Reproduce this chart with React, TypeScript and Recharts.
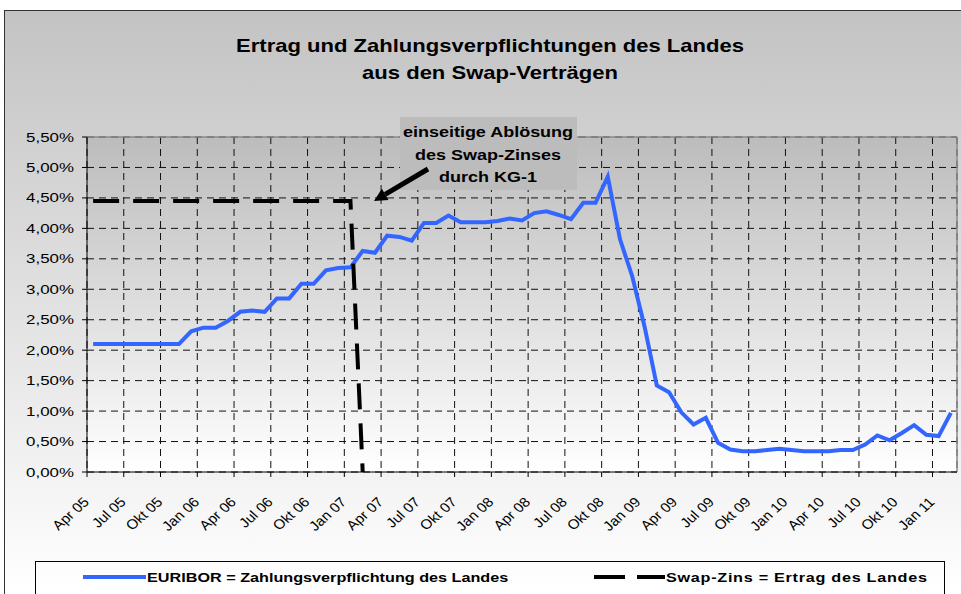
import React from 'react';
import { LineChart, Line, XAxis, YAxis, CartesianGrid, ReferenceLine } from 'recharts';

// monthly categories, Apr 05 .. Feb 11
const months = [
  'Apr 05', 'Mai 05', 'Jun 05', 'Jul 05', 'Aug 05', 'Sep 05', 'Okt 05', 'Nov 05', 'Dez 05',
  'Jan 06', 'Feb 06', 'Mrz 06', 'Apr 06', 'Mai 06', 'Jun 06', 'Jul 06', 'Aug 06', 'Sep 06', 'Okt 06', 'Nov 06', 'Dez 06',
  'Jan 07', 'Feb 07', 'Mrz 07', 'Apr 07', 'Mai 07', 'Jun 07', 'Jul 07', 'Aug 07', 'Sep 07', 'Okt 07', 'Nov 07', 'Dez 07',
  'Jan 08', 'Feb 08', 'Mrz 08', 'Apr 08', 'Mai 08', 'Jun 08', 'Jul 08', 'Aug 08', 'Sep 08', 'Okt 08', 'Nov 08', 'Dez 08',
  'Jan 09', 'Feb 09', 'Mrz 09', 'Apr 09', 'Mai 09', 'Jun 09', 'Jul 09', 'Aug 09', 'Sep 09', 'Okt 09', 'Nov 09', 'Dez 09',
  'Jan 10', 'Feb 10', 'Mrz 10', 'Apr 10', 'Mai 10', 'Jun 10', 'Jul 10', 'Aug 10', 'Sep 10', 'Okt 10', 'Nov 10', 'Dez 10',
  'Jan 11', 'Feb 11',
];

const tickLabels = [
  'Apr 05', 'Jul 05', 'Okt 05', 'Jan 06', 'Apr 06', 'Jul 06', 'Okt 06', 'Jan 07',
  'Apr 07', 'Jul 07', 'Okt 07', 'Jan 08', 'Apr 08', 'Jul 08', 'Okt 08', 'Jan 09',
  'Apr 09', 'Jul 09', 'Okt 09', 'Jan 10', 'Apr 10', 'Jul 10', 'Okt 10', 'Jan 11',
];

const yTicks = [0, 0.5, 1, 1.5, 2, 2.5, 3, 3.5, 4, 4.5, 5, 5.5];

// EURIBOR = Zahlungsverpflichtung des Landes (%)
const euribor = [
  2.10, 2.10, 2.10, 2.10, 2.10, 2.10, 2.10, 2.10,
  2.31, 2.37, 2.37, 2.48,
  2.63, 2.65, 2.63, 2.85, 2.85, 3.09, 3.09, 3.31, 3.35, 3.36,
  3.63, 3.60, 3.88, 3.86, 3.80, 4.09, 4.09, 4.21, 4.10, 4.10,
  4.10, 4.12, 4.16, 4.13, 4.25, 4.28, 4.22, 4.15, 4.42, 4.42,
  4.85, 3.82, 3.21, 2.39, 1.42, 1.31, 0.98, 0.78, 0.89, 0.48,
  0.37, 0.34, 0.34, 0.36, 0.38, 0.36, 0.34, 0.34, 0.34, 0.36,
  0.36, 0.45, 0.60, 0.52, 0.64, 0.77, 0.61, 0.59, 0.97,
];

// Swap-Zins = Ertrag des Landes (%), ends after Feb 07
const swapZins = [
  4.45, 4.45, 4.45, 4.45, 4.45, 4.45, 4.45, 4.45, 4.45, 4.45, 4.45,
  4.45, 4.45, 4.45, 4.45, 4.45, 4.45, 4.45, 4.45, 4.45, 4.45, 4.45,
  0,
];

const rows = months.map((m, i) => ({
  pos: i + 0.5,
  month: m,
  euribor: euribor[i],
  swap: swapZins[i] ?? null,
}));

const xTicks = tickLabels.map((l) => months.indexOf(l));

const FONT = '"Liberation Sans", Arial, sans-serif';

const pct = (v: number) => v.toFixed(2).replace('.', ',') + '%';

const YTick = ({ x, y, payload }: any) => (
  <g transform={`translate(${x},${y})`}>
    <text transform="scale(1.3,1)" textAnchor="end" dy={4.5} fontSize={13} fontFamily={FONT} fill="#000">
      {pct(payload.value)}
    </text>
  </g>
);

const XTick = ({ x, y, payload }: any) => (
  <g transform={`translate(${x + 3},${y + 24}) scale(1.12,1) rotate(-45)`}>
    <text textAnchor="end" fontSize={13.5} fontFamily={FONT} fill="#000">
      {months[payload.value]}
    </text>
  </g>
);

const Stretched = ({ x, y, anchor = 'middle', size, sx = 1.2, spacing = 0, children }: any) => (
  <g transform={`translate(${x},${y}) scale(${sx},1)`}>
    <text textAnchor={anchor} fontSize={size} fontWeight="bold" letterSpacing={spacing} fontFamily={FONT} fill="#000">
      {children}
    </text>
  </g>
);

// arrow of the annotation
const arrowFrom = { x: 428, y: 169 };
const arrowTip = { x: 374, y: 201 };

const Arrow = () => {
  const dx = arrowTip.x - arrowFrom.x;
  const dy = arrowTip.y - arrowFrom.y;
  const len = Math.hypot(dx, dy);
  const ux = dx / len;
  const uy = dy / len;
  const bx = arrowTip.x - ux * 13;
  const by = arrowTip.y - uy * 13;
  const hw = 6.5;
  return (
    <g>
      <line x1={arrowFrom.x} y1={arrowFrom.y} x2={bx} y2={by} stroke="#000" strokeWidth={5} />
      <polygon
        points={`${arrowTip.x},${arrowTip.y} ${bx - uy * hw},${by + ux * hw} ${bx + uy * hw},${by - ux * hw}`}
        fill="#000"
      />
    </g>
  );
};

export default function App() {
  return (
    <div style={{ position: 'absolute', left: 0, top: 0, width: 961, height: 594, overflow: 'hidden', background: '#fff' }}>
      <div
        style={{
          position: 'absolute',
          left: 4,
          top: 10,
          width: 1000,
          height: 600,
          border: '1px solid #333',
          background: 'linear-gradient(to bottom, #c3c3c3 0%, #ffffff 97%)',
        }}
      />
      <div style={{ position: 'absolute', left: 0, top: 0 }}>
        <LineChart width={961} height={594} data={rows} margin={{ top: 137, right: 4, bottom: 62, left: 7 }}>
          <defs>
            <linearGradient id="plotBg" x1="0" y1="0" x2="0" y2="1">
              <stop offset="0%" stopColor="#bcbcbc" />
              <stop offset="100%" stopColor="#ffffff" />
            </linearGradient>
          </defs>
          <CartesianGrid stroke="#111" strokeDasharray="7 5" fill="url(#plotBg)" fillOpacity={1} />
          <XAxis
            dataKey="pos"
            type="number"
            domain={[0, months.length]}
            ticks={xTicks}
            interval={0}
            height={60}
            tickSize={5}
            tickMargin={2}
            tick={<XTick />}
            axisLine={{ stroke: '#000' }}
            tickLine={{ stroke: '#000' }}
            allowDataOverflow
          />
          <YAxis
            domain={[0, 5.5]}
            ticks={yTicks}
            interval={0}
            width={80}
            tickSize={5}
            tickMargin={8}
            tick={<YTick />}
            axisLine={{ stroke: '#000' }}
            tickLine={{ stroke: '#000' }}
          />
          <ReferenceLine y={5.5} stroke="#8a8a8a" strokeWidth={1.5} />
          <ReferenceLine x={months.length} stroke="#8a8a8a" strokeWidth={1.5} />
          <Line
            type="linear"
            dataKey="euribor"
            stroke="#3366ff"
            strokeWidth={4}
            dot={false}
            activeDot={false}
            isAnimationActive={false}
          />
          <Line
            type="linear"
            dataKey="swap"
            stroke="#000"
            strokeWidth={4}
            strokeDasharray="26 14"
            dot={false}
            activeDot={false}
            connectNulls={false}
            isAnimationActive={false}
          />
        </LineChart>
      </div>
      <svg width={961} height={594} style={{ position: 'absolute', left: 0, top: 0, pointerEvents: 'none' }}>
        {/* title */}
        <Stretched x={490} y={52} size={19} sx={1.16}>Ertrag und Zahlungsverpflichtungen des Landes</Stretched>
        <Stretched x={490} y={79} size={19} sx={1.16}>aus den Swap-Verträgen</Stretched>

        {/* annotation */}
        <rect x={400} y={117} width={177} height={73} fill="#bcbcbc" />
        <Stretched x={488} y={137} size={15}>einseitige Ablösung</Stretched>
        <Stretched x={488} y={160} size={15}>des Swap-Zinses</Stretched>
        <Stretched x={488} y={182} size={15}>durch KG-1</Stretched>
        <Arrow />

        {/* legend */}
        <rect x={35.5} y={561.5} width={909} height={40} fill="none" stroke="#000" strokeWidth={1} />
        <line x1={83} y1={577} x2={146} y2={577} stroke="#3366ff" strokeWidth={4} />
        <Stretched x={147} y={582} size={13.5} anchor="start">EURIBOR = Zahlungsverpflichtung des Landes</Stretched>
        <line x1={594} y1={577} x2={665} y2={577} stroke="#000" strokeWidth={4} strokeDasharray="31 12" />
        <Stretched x={666} y={582} size={13.5} anchor="start" spacing={0.6}>Swap-Zins = Ertrag des Landes</Stretched>
      </svg>
    </div>
  );
}
